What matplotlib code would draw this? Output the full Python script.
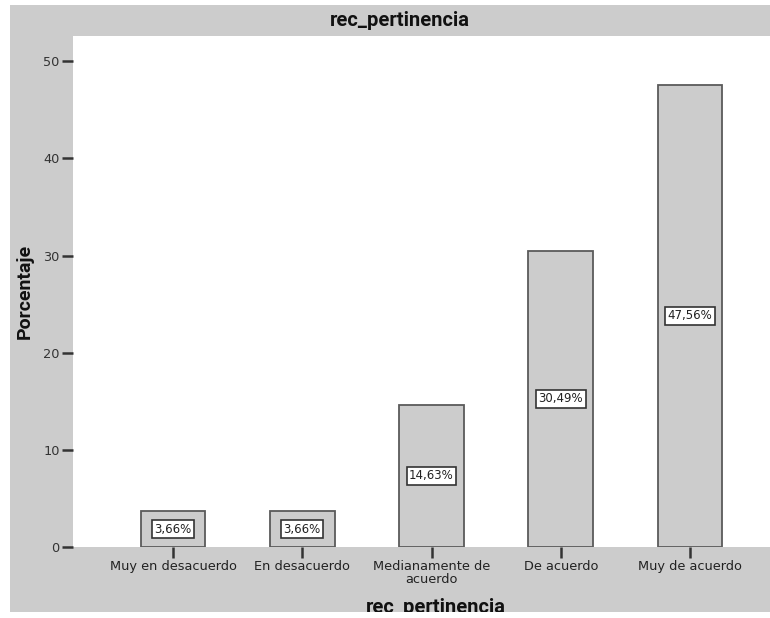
import matplotlib
matplotlib.use("Agg")
import matplotlib.pyplot as plt
from matplotlib.patches import Rectangle

categories = ["Muy en desacuerdo", "En desacuerdo", "Medianamente de\nacuerdo",
              "De acuerdo", "Muy de acuerdo"]
porcentajes = [3.66, 3.66, 14.63, 30.49, 47.56]
etiquetas = ["3,66%", "3,66%", "14,63%", "30,49%", "47,56%"]
yticks = [0, 10, 20, 30, 40, 50]

W, H = 770, 618
fig = plt.figure(figsize=(W / 100, H / 100), dpi=100)
fig.patch.set_facecolor("white")

def px(x0, y0, x1, y1):
    return (x0 / W, 1 - y1 / H, (x1 - x0) / W, (y1 - y0) / H)

# grey chart frame
bx = px(10, 5, 770, 612)
fig.patches.append(Rectangle((bx[0], bx[1]), bx[2], bx[3], transform=fig.transFigure,
                             facecolor="#cccccc", edgecolor="none", zorder=-5))

ax = fig.add_axes(px(73, 36, 770, 547))
ax.set_zorder(1)
ax.set_facecolor("white")
for s in ax.spines.values():
    s.set_visible(False)

title_font = ["Roboto", "DejaVu Sans"]
tick_font = ["DejaVu Sans"]
x = list(range(len(categories)))
ax.bar(x, porcentajes, width=0.5, color="#cccccc", edgecolor="#5a5a5a", linewidth=1.3, zorder=2)
for xi, v, t in zip(x, porcentajes, etiquetas):
    ax.text(xi, v / 2, t, ha="center", va="center", fontsize=8.5, family=tick_font,
            color="#222222", zorder=3,
            bbox=dict(boxstyle="square,pad=0.22", facecolor="white", edgecolor="#333333", linewidth=1.2))

ax.set_xlim(-0.774, 4.619)
ax.set_ylim(0, 52.6)
ax.set_xticks(x)
ax.set_xticklabels(categories, fontsize=9.3, family=tick_font, color="#222222", linespacing=0.95)
ax.set_yticks(yticks)
ax.set_yticklabels([str(t) for t in yticks], fontsize=9.3, family=tick_font, color="#333333")
ax.tick_params(axis="both", direction="out", length=8, width=1.8, color="#333333", pad=1.5)

fig.text(400 / W, 1 - 21 / H, "rec_pertinencia", ha="center", va="center", fontsize=14.5,
         fontweight="bold", family=title_font, color="#111111")
fig.text(25 / W, 1 - 291 / H, "Porcentaje", ha="center", va="center", rotation=90, fontsize=14,
         fontweight="bold", family=title_font, color="#111111")
fig.text(436 / W, 1 - 613 / H, "rec_pertinencia", ha="center", va="baseline", fontsize=14.5,
         fontweight="bold", family=title_font, color="#111111")

# white strip below the frame trims the lower axis title
bb = px(0, 612, 770, 618)
fig.patches.append(Rectangle((bb[0], bb[1]), bb[2], bb[3], transform=fig.transFigure,
                             facecolor="white", edgecolor="none", zorder=10))

fig.savefig("out.png", dpi=100)
